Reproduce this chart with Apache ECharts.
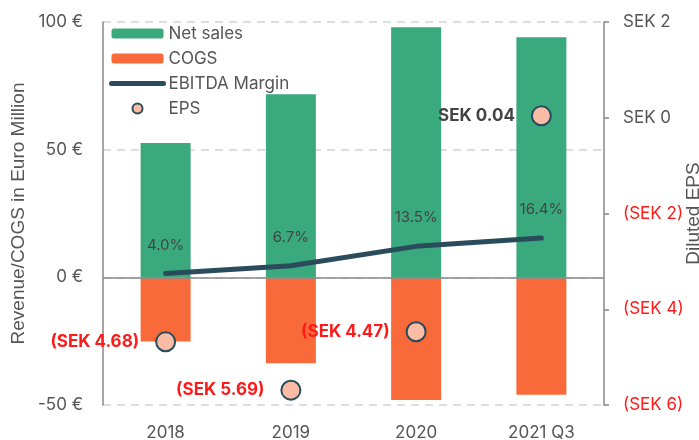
<!DOCTYPE html>
<html>
<head>
<meta charset="utf-8">
<script src="https://cdn.jsdelivr.net/npm/echarts@6/dist/echarts.min.js"></script>
<style>
	html, body { margin: 0; padding: 0; background: #fff; }
	#chart { width: 699px; height: 440px; }
</style>
</head>
<body>
<div id="chart"></div>
<script>
var categories = [ "2018", "2019", "2020", "2021 Q3" ];
var netSales = [ 52.6, 71.7, 97.9, 94.0 ];
var cogs = [ -25.1, -33.6, -48.0, -46.0 ];
var ebitdaMargin = [ 4.0, 6.7, 13.5, 16.4 ];
var eps = [ -4.68, -5.69, -4.47, 0.04 ];

var GREEN = "#3aaa7e", ORANGE = "#f96a3a", NAVY = "#2a4b5c", GREY = "#555", RED = "#ff1a1a";
var FONT = "Inter";
var TITLE_FONT = "Liberation Sans";

//EPS 라벨 - 음수는 빨간 괄호
var epsData = [];
var i = 0, iLen = eps.length, v;
for(;i<iLen;++i){
	v = eps[ i ];
	epsData.push({
		value : v,
		label : { color : v < 0 ? RED : "#444" }
	});
};

var sekFmt = function( v, digits ){
	var s = Math.abs( v ).toFixed( digits );
	return v < 0 ? "(SEK " + s + ")" : "SEK " + s;
};

var myChart = echarts.init( document.getElementById( "chart" ) );

var option = {
	animation : false,
	textStyle : { fontFamily : FONT },
	grid : { left : 103, right : 95, top : 22, bottom : 35, outerBoundsMode : "none", containLabel : false },
	legend : {
		orient : "vertical",
		left : 104,
		top : 20,
		itemWidth : 52,
		itemHeight : 10,
		itemGap : 8,
		textStyle : { fontSize : 17, color : GREY, fontFamily : FONT },
		data : [
			"Net sales",
			"COGS",
			{ name : "EBITDA Margin", itemStyle : { opacity : 0 }, lineStyle : { width : 5, cap : "round", color : NAVY } },
			"EPS"
		]
	},
	xAxis : {
		type : "category",
		data : categories,
		axisLine : { show : false },
		axisTick : { show : false },
		axisLabel : { fontSize : 17, color : GREY, margin : 19 }
	},
	yAxis : [
		{
			type : "value",
			min : -50, max : 100, interval : 50,
			name : "Revenue/COGS in Euro Million",
			nameLocation : "middle",
			nameGap : 75,
			nameMoveOverlap : false,
			nameTextStyle : { fontSize : 19, color : GREY, fontFamily : TITLE_FONT },
			axisLine : { show : true, lineStyle : { color : "#888", width : 1.5 } },
			axisTick : { show : false },
			axisLabel : { fontSize : 17, color : GREY, margin : 20, formatter : function( v ){ return v + " €"; } },
			splitLine : { lineStyle : { color : "#d4d4d4", type : [ 8, 6 ], width : 1.5 } }
		},
		{
			type : "value",
			min : -6, max : 2, interval : 2,
			position : "right",
			name : "Diluted EPS",
			nameLocation : "middle",
			nameGap : 80,
			nameRotate : 90,
			nameMoveOverlap : false,
			nameTextStyle : { fontSize : 19, color : GREY, fontFamily : TITLE_FONT },
			axisLine : { show : true, lineStyle : { color : "#888", width : 1.5 } },
			axisTick : { show : true, length : 5, lineStyle : { color : "#888", width : 1.5 } },
			axisLabel : {
				fontSize : 17, margin : 19,
				formatter : function( v ){ return sekFmt( v, 0 ); },
				color : function( v ){ return Number( v ) < 0 ? RED : GREY; }
			},
			splitLine : { show : false }
		},
		{
			//EBITDA 마진용 숨은 축
			type : "value",
			min : -42, max : 92,
			show : false,
			splitLine : { show : false }
		}
	],
	series : [
		{
			name : "Net sales",
			type : "bar",
			stack : "rev",
			barWidth : 50,
			itemStyle : { color : GREEN },
			data : netSales,
			markLine : {
				silent : true,
				symbol : "none",
				label : { show : false },
				lineStyle : { color : "#888", type : "solid", width : 1.5 },
				data : [ { yAxis : 0 } ]
			}
		},
		{
			name : "COGS",
			type : "bar",
			stack : "rev",
			barWidth : 50,
			itemStyle : { color : ORANGE },
			data : cogs
		},
		{
			name : "EBITDA Margin",
			type : "line",
			yAxisIndex : 2,
			symbol : "circle",
			symbolSize : 0,
			showSymbol : true,
			lineStyle : { color : NAVY, width : 5, cap : "round" },
			itemStyle : { color : NAVY },
			label : {
				show : true, position : "top", distance : 21,
				fontSize : 15, color : "#444",
				formatter : function( p ){ return p.value.toFixed( 1 ) + "%"; }
			},
			z : 5,
			data : ebitdaMargin
		},
		{
			name : "EPS",
			type : "scatter",
			yAxisIndex : 1,
			symbolSize : 19,
			itemStyle : { color : "#fbbca6", borderColor : NAVY, borderWidth : 2, opacity : 1 },
			label : {
				show : true, position : "left", distance : 16,
				fontSize : 17, fontWeight : "bold",
				formatter : function( p ){ return sekFmt( p.value, 2 ); }
			},
			z : 6,
			data : epsData
		}
	]
};

if( option && typeof option === "object" ) myChart.setOption( option, true );

window.addEventListener("resize",function(e){ myChart.resize(); });
</script>
</body>
</html>
